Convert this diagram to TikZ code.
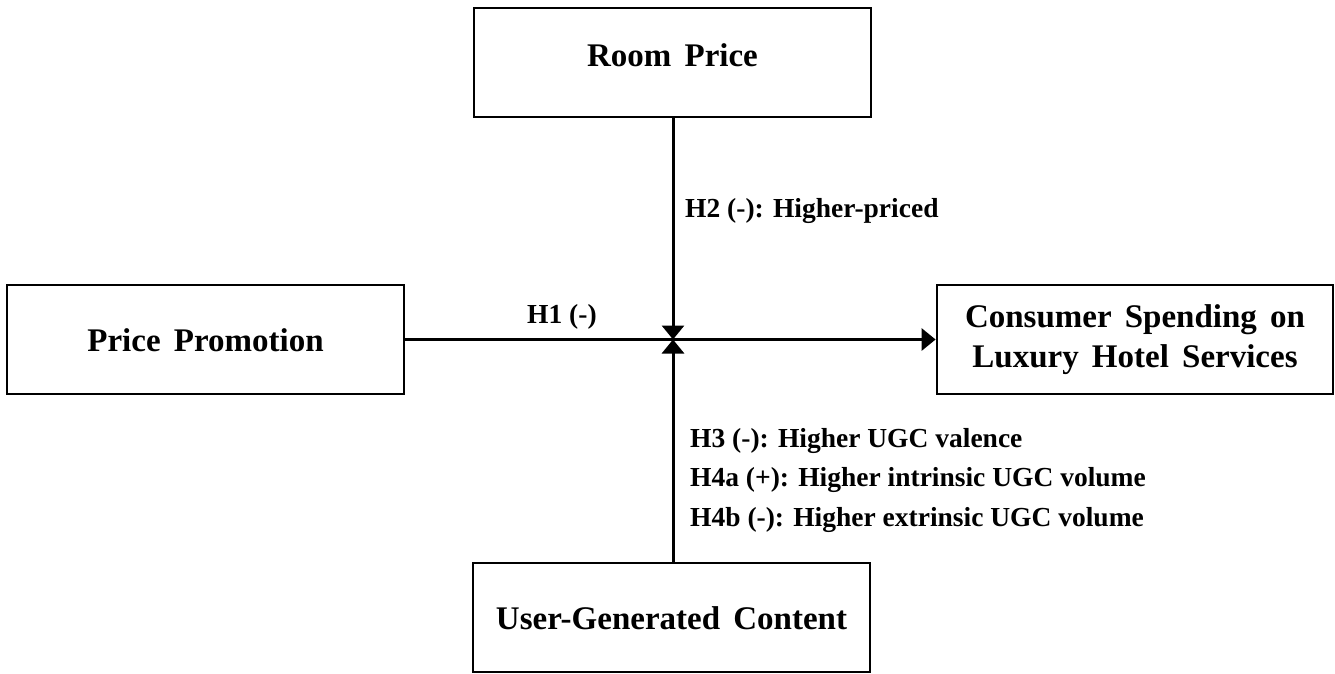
\documentclass[tikz,border=0pt]{standalone}
\usepackage{fontspec}
\setmainfont{Liberation Serif}
\usetikzlibrary{arrows.meta}
\newcommand\myboxfont{\fontsize{33}{40}\selectfont\bfseries\spaceskip=0.4em plus 0.1em\relax}
\newcommand\mylblfont{\fontsize{27.5}{39.5}\selectfont\bfseries}
\begin{document}
\begin{tikzpicture}[x=1pt,y=-1pt,
  box/.style={draw=black,line width=2.8pt,rectangle,minimum width=397pt,minimum height=109pt,
    inner sep=0pt,align=center,font=\myboxfont},
  one/.style={text height=23pt,text depth=0pt},
  conn/.style={line width=3pt,-{Triangle[width=22pt,length=14pt]}},
  lbl/.style={anchor=base west,inner sep=0pt,align=left,font=\mylblfont}]
\useasboundingbox (0,0) rectangle (1335,673);
\node[box,text height=23pt,text depth=16pt] (rp) at (672.5,62.5) {Room Price};
\node[box,one] (pp) at (205.5,339.5) {Price Promotion};
\node[box,minimum width=396pt] (cs) at (1135,339.5) {Consumer Spending on\\Luxury Hotel Services};
\node[box,one] (ugc) at (671.5,617.5) {User-Generated Content};
\coordinate (c) at (673,339.5);
\draw[conn] (pp.east) -- (cs.west);
\draw[conn] (rp.south -| c) -- (c);
\draw[conn] (ugc.north -| c) -- (c);
\node[lbl] (h1) at (527,323) {H1 (-)};
\node[lbl] (h2) at (685,217) {H2 (-): Higher-priced};
\node[lbl] (h3) at (690,526) {H3 (-): Higher UGC valence\\H4a (+): Higher intrinsic UGC volume\\H4b (-): Higher extrinsic UGC volume};
\end{tikzpicture}
\end{document}
